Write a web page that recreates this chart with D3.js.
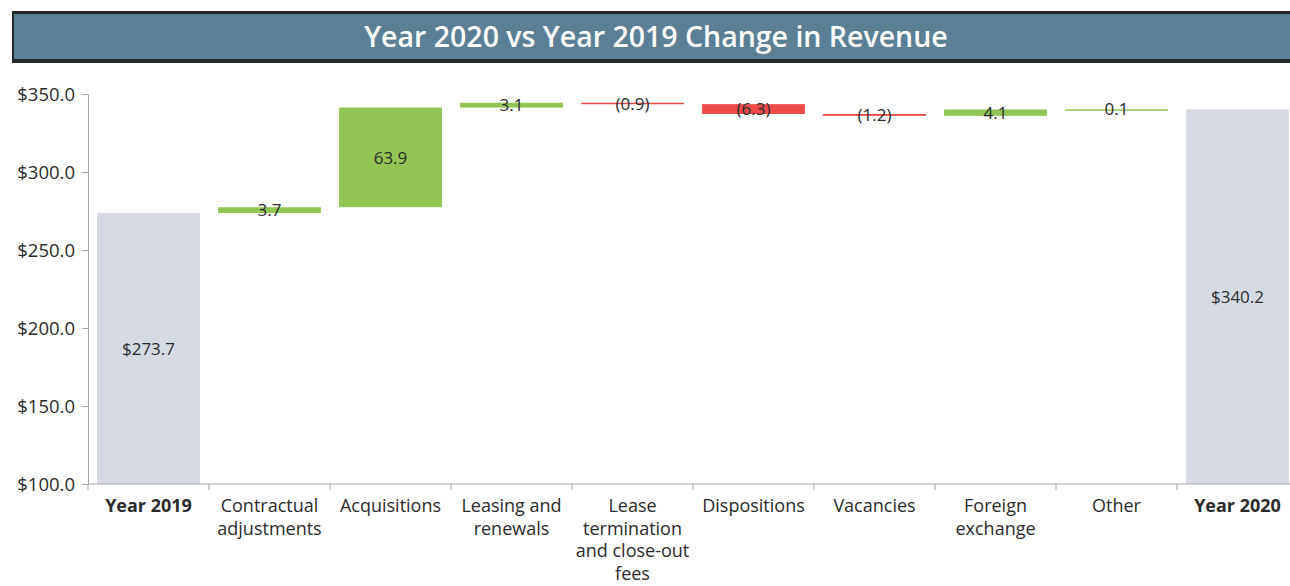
<!DOCTYPE html>
<html lang="en">
<head>
<meta charset="UTF-8">
<title>Year 2020 vs Year 2019 Change in Revenue</title>
<script src="https://d3js.org/d3.v7.min.js"></script>
<style>
  body { margin: 0; background: #fff; }
  svg text { font-family: "Open Sans", "Lato", sans-serif; fill: #2b2b2b; }
  .title { font-weight: bold; fill: #fff; }
  .axis path, .axis line { stroke: #a6a6a6; }
</style>
</head>
<body>
<div id="chart"></div>
<script>
var categories = ["Year 2019", "Contractual adjustments", "Acquisitions", "Leasing and renewals",
  "Lease termination and close-out fees", "Dispositions", "Vacancies", "Foreign exchange", "Other", "Year 2020"];
var values = [273.7, 3.7, 63.9, 3.1, -0.9, -6.3, -1.2, 4.1, 0.1, 340.2];
var isTotal = [true, false, false, false, false, false, false, false, false, true];
var yTicks = [100, 150, 200, 250, 300, 350];

var width = 1290, height = 586;
var margin = {top: 94, left: 88, bottom: 102};

var svg = d3.select('#chart').append('svg')
  .attr('width', width)
  .attr('height', height);

// title banner
svg.append('rect').attr('x', 12).attr('y', 11).attr('width', 1290).attr('height', 52).attr('fill', '#262626');
svg.append('rect').attr('x', 14).attr('y', 14).attr('width', 1290).attr('height', 45).attr('fill', '#5b8096');
svg.append('text').attr('class', 'title')
  .attr('x', 656).attr('y', 47)
  .attr('text-anchor', 'middle')
  .style('font-size', '28.5px')
  .style('font-weight', '600')
  .text('Year 2020 vs Year 2019 Change in Revenue');

// running totals for the waterfall
var rows = [], run = 0;
categories.forEach(function (c, i) {
  var lo, hi;
  if (isTotal[i]) { lo = 100; hi = values[i]; run = values[i]; }
  else { lo = run; hi = run + values[i]; run = hi; }
  rows.push({name: c, v: values[i], total: isTotal[i], y0: Math.min(lo, hi), y1: Math.max(lo, hi)});
});

var x = d3.scaleBand().domain(categories).range([margin.left, 1298]).paddingInner(0.15).paddingOuter(0.075);
var y = d3.scaleLinear().domain([100, 350]).range([height - margin.bottom, margin.top]);

svg.append('g').attr('class', 'axis')
  .attr('transform', 'translate(' + margin.left + ',0)')
  .call(d3.axisLeft(y).tickValues(yTicks).tickSize(6).tickPadding(7).tickSizeOuter(0).tickFormat(function (d) { return '$' + d.toFixed(1); }))
  .call(function (g) { g.selectAll('text').style('font-size', '18.5px').attr('fill', '#2b2b2b').attr('dy', '0.35em'); });

svg.selectAll('rect.bar').data(rows).enter().append('rect')
  .attr('class', 'bar')
  .attr('x', function (d) { return x(d.name); })
  .attr('width', x.bandwidth())
  .attr('y', function (d) { return y(d.y1); })
  .attr('height', function (d) { return Math.max(1.5, y(d.y0) - y(d.y1)); })
  .attr('fill', function (d) { return d.total ? '#d6dbe3' : (d.v >= 0 ? '#92c553' : '#ef4b4b'); });

svg.selectAll('text.val').data(rows).enter().append('text')
  .attr('class', 'val')
  .attr('x', function (d) { return x(d.name) + x.bandwidth() / 2; })
  .attr('y', function (d) { return (y(d.y0) + y(d.y1)) / 2; })
  .attr('dy', '0.36em')
  .attr('text-anchor', 'middle')
  .style('font-size', '17px')
  .text(function (d) {
    if (d.total) return '$' + d.v.toFixed(1);
    return d.v < 0 ? '(' + (-d.v).toFixed(1) + ')' : d.v.toFixed(1);
  });

// x axis with category boundaries as ticks
var xAxisG = svg.append('g').attr('class', 'axis');
var x0 = y(100);
xAxisG.append('line').attr('x1', margin.left).attr('x2', 1298).attr('y1', x0).attr('y2', x0);
xAxisG.selectAll('line.tk').data(categories).enter().append('line')
  .attr('class', 'tk')
  .attr('x1', function (d) { return x(d) - x.step() * x.paddingInner() / 2; })
  .attr('x2', function (d) { return x(d) - x.step() * x.paddingInner() / 2; })
  .attr('y1', x0).attr('y2', x0 + 6);

var labels = svg.selectAll('text.cat').data(rows).enter().append('text')
  .attr('class', 'cat')
  .attr('text-anchor', 'middle')
  .style('font-size', '18px')
  .style('font-weight', function (d) { return d.total ? 'bold' : 'normal'; })
  .attr('transform', function (d) { return 'translate(' + (x(d.name) + x.bandwidth() / 2) + ',' + (x0 + 28) + ')'; });

labels.each(function (d) {
  var t = d3.select(this), words = d.name.split(' '), line = [];
  var ts = t.append('tspan').attr('x', 0).attr('dy', 0);
  words.forEach(function (w) {
    line.push(w);
    ts.text(line.join(' '));
    if (ts.node().getComputedTextLength() > x.step() - 2 && line.length > 1) {
      line.pop();
      ts.text(line.join(' '));
      line = [w];
      ts = t.append('tspan').attr('x', 0).attr('dy', '22.5px').text(w);
    }
  });
});
</script>
</body>
</html>
